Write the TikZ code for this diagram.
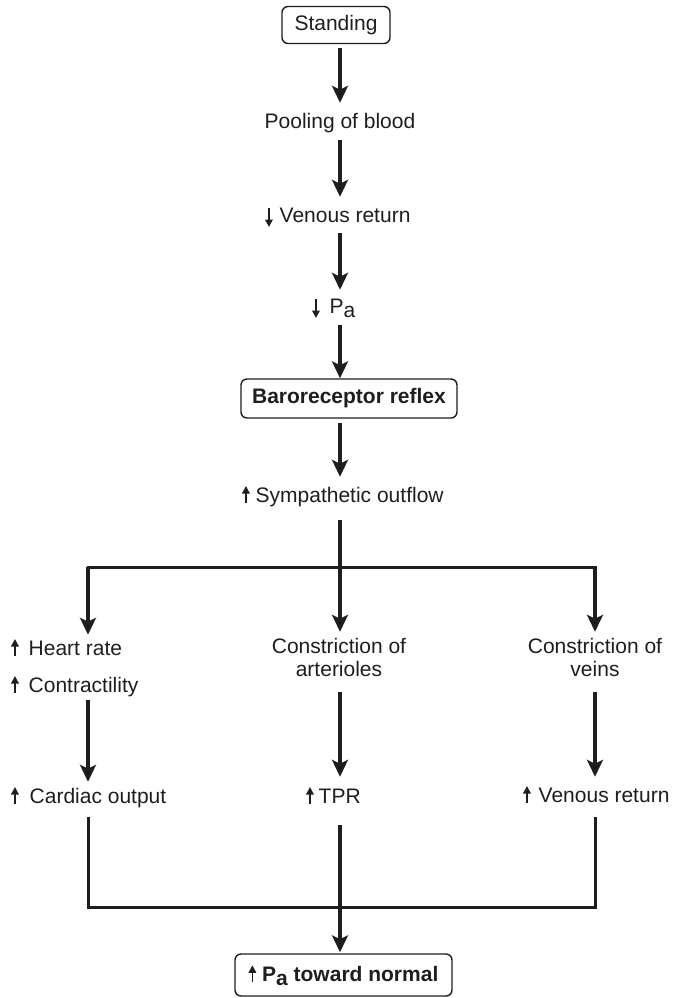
\documentclass[tikz,border=0pt]{standalone}
\usepackage{fontspec}
\setmainfont{Liberation Sans}
\usetikzlibrary{arrows.meta}
\definecolor{ink}{RGB}{30,30,30}
\newcommand\uparr{\tikz[x=1pt,y=1pt,baseline=0pt]\draw[draw=ink,fill=ink,line width=1.8pt,-{Triangle[length=7.5pt,width=7.5pt]}] (0,-0.5) -- (0,16);}
\newcommand\dnarr{\tikz[x=1pt,y=1pt,baseline=0pt]\draw[draw=ink,fill=ink,line width=1.8pt,-{Triangle[length=7.5pt,width=7.5pt]}] (0,14) -- (0,-5);}
\begin{document}
\begin{tikzpicture}[x=1pt,y=-1pt,
  every node/.style={text=ink},
  txt/.style={inner sep=0pt, text height=16pt, text depth=5pt, font=\fontsize{21}{23}\selectfont, anchor=base},
  box/.style={draw=ink, line width=1.4pt, rounded corners=6pt, inner sep=0pt, font=\fontsize{21}{23}\selectfont},
  arr/.style={draw=ink, line width=3.2pt, -{Stealth[length=17pt,width=16pt,inset=4pt]}},
  ln/.style={draw=ink, line width=3pt}]
\useasboundingbox (0,0) rectangle (678,998);
% nodes
\node[box, minimum width=108pt, minimum height=37pt] (stand) at (336,25) {Standing};
\node[txt] (pool) at (340,128) {Pooling of blood};
\node[txt, anchor=base west] (ven1) at (265,222) {\dnarr\hspace{7pt}Venous return};
\node[txt, anchor=base west] (pa) at (312,313) {\dnarr\hspace{10pt}P\raisebox{-4pt}{a}};
\node[box, font=\fontsize{21}{23}\selectfont\bfseries, minimum width=216pt, minimum height=39pt] (baro) at (349,398.5) {Baroreceptor reflex};
\node[txt, anchor=base west] (symp) at (242,502) {\uparr\hspace{6pt}Sympathetic outflow};
\coordinate (jl) at (88,567);
\coordinate (jm) at (340,567);
\coordinate (jr) at (595,567);
\node[txt, anchor=base west] (heart) at (11,655) {\uparr\hspace{10pt}Heart rate};
\node[txt, anchor=base west] (contr) at (11,692) {\uparr\hspace{10pt}Contractility};
\node[txt] (art1) at (339,653) {Constriction of};
\node[txt] (art2) at (339,676) {arterioles};
\node[txt] (con1) at (595,653) {Constriction of};
\node[txt] (con2) at (595,676) {veins};
\node[txt, anchor=base west] (card) at (11,803) {\uparr\hspace{11pt}Cardiac output};
\node[txt, anchor=base west] (tpr) at (306,803) {\uparr\hspace{5pt}TPR};
\node[txt, anchor=base west] (ven2) at (523,802) {\uparr\hspace{8pt}Venous return};
\coordinate (bl) at (88,907);
\coordinate (br) at (595,907);
\node[box, font=\fontsize{21}{23}\selectfont\bfseries, minimum width=217pt, minimum height=42pt] (fin) at (343.5,975) {\uparr\hspace{6pt}P\raisebox{-4pt}{a} toward normal};
% connectors
\draw[arr, shorten <=4pt, shorten >=9pt] (jm |- stand.south) -- (jm |- pool.north);
\draw[arr, shorten <=7pt, shorten >=9pt] (jm |- pool.south) -- (jm |- ven1.north);
\draw[arr, shorten <=6pt, shorten >=7pt] (jm |- ven1.south) -- (jm |- pa.north);
\draw[arr, shorten <=7pt] (jm |- pa.south) -- (jm |- baro.north);
\draw[arr, shorten <=4pt, shorten >=9pt] (jm |- baro.south) -- (jm |- symp.north);
\draw[arr, shorten <=13pt, shorten >=5pt] (jm |- symp.south) -- (jm |- art1.north);
\draw[ln, line cap=rect] (jl) -- (jr);
\draw[arr, shorten >=4pt] (jl) -- (jl |- heart.north);
\draw[arr, shorten >=5pt] (jr) -- (jr |- con1.north);
\draw[arr, shorten <=3pt, shorten >=5pt] (jl |- contr.south) -- (jl |- card.north);
\draw[arr, shorten <=11pt, shorten >=10pt] (jm |- art2.south) -- (jm |- tpr.north);
\draw[arr, shorten <=11pt, shorten >=9pt] (jr |- con2.south) -- (jr |- ven2.north);
\draw[ln, shorten <=9pt, shorten >=10pt] (jl |- card.south) -- (bl) -- (br) -- (jr |- ven2.south);
\draw[arr, shorten <=17pt, shorten >=1pt] (jm |- tpr.south) -- (jm |- fin.north);
\end{tikzpicture}
\end{document}
